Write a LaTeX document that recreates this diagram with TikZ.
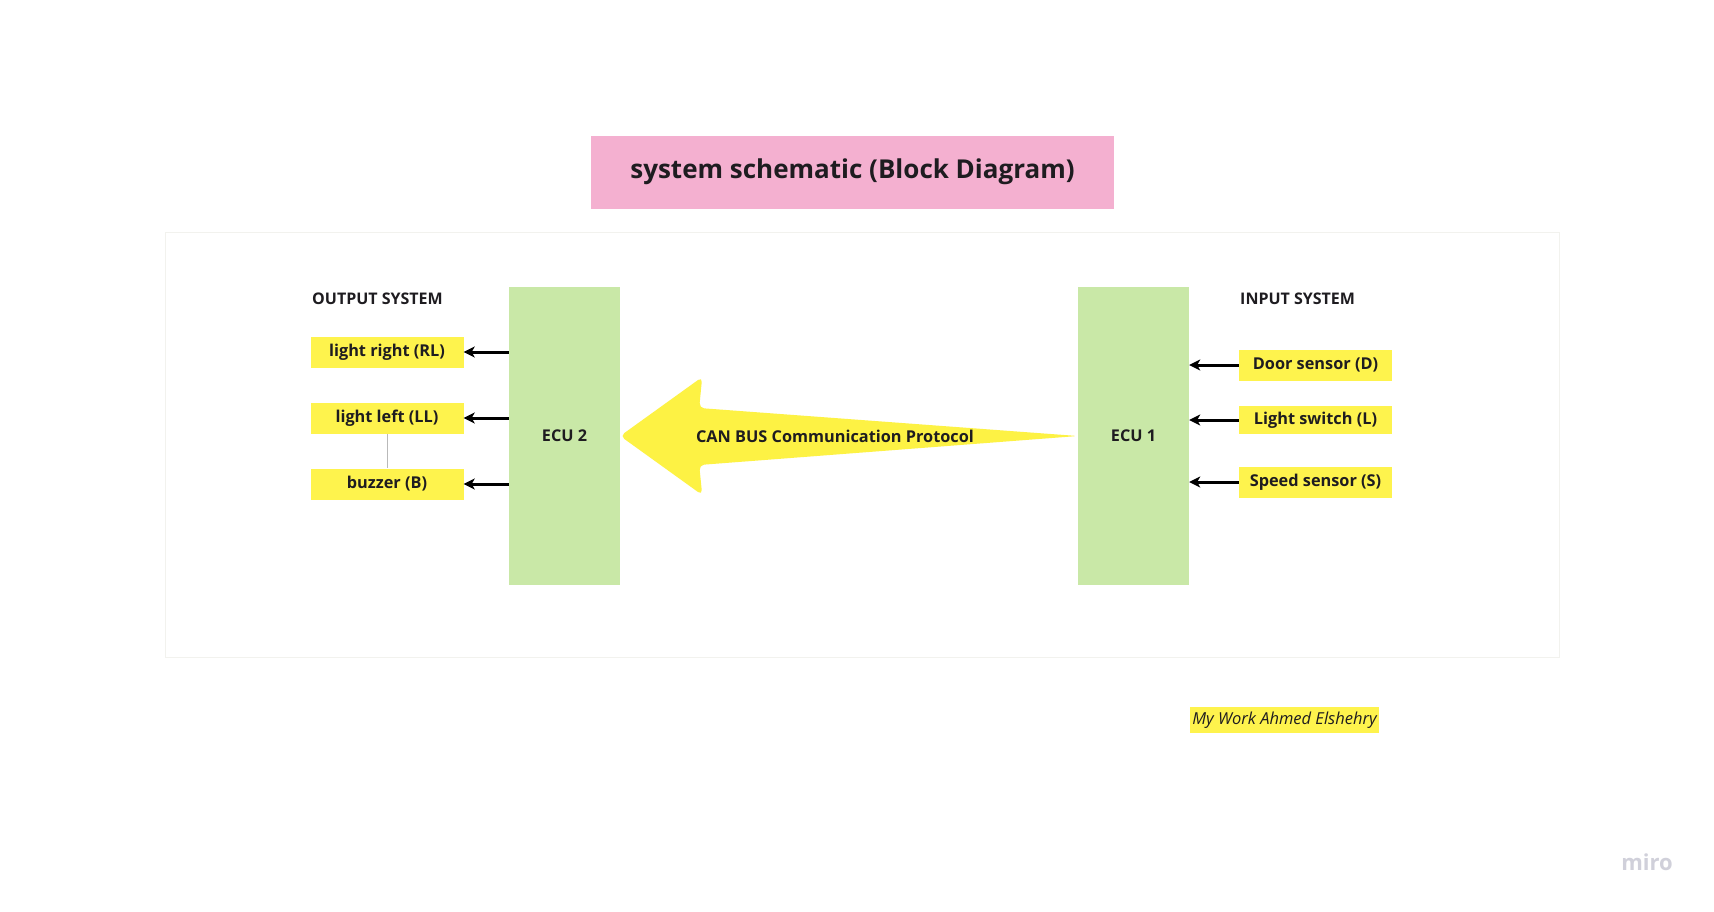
\documentclass[tikz,border=0pt]{standalone}
\usepackage{fontspec}
\setmainfont{Open Sans}
\usepackage{tikz}
\usetikzlibrary{arrows.meta,calc,positioning}

\definecolor{titlePink}{RGB}{244,176,208}
\definecolor{ecuGreen}{RGB}{201,232,167}
\definecolor{noteYellow}{RGB}{254,243,77}
\definecolor{canYellow}{RGB}{253,242,68}
\definecolor{inkDark}{RGB}{30,28,32}
\definecolor{frameGray}{RGB}{242,242,238}
\definecolor{miroGray}{RGB}{208,208,218}

\begin{document}
\begin{tikzpicture}[x=1pt,y=-1pt,
  ecu/.style={fill=ecuGreen, text=inkDark, inner sep=0pt, minimum width=111pt, minimum height=298pt, font=\fontsize{16.2}{19}\selectfont\bfseries},
  note/.style={fill=noteYellow, text=inkDark, inner sep=0pt, minimum width=153pt, minimum height=31pt, font=\fontsize{16.3}{19}\selectfont\bfseries},
  head/.style={anchor=west, text=inkDark, inner sep=0pt, font=\fontsize{16}{19}\selectfont\bfseries},
  sigarr/.style={-{Stealth[length=11pt,width=11pt,inset=3pt]}, line width=3pt, black}]
\useasboundingbox[fill=white] (0,0) rectangle (1714,911);
\draw[frameGray] (165,232) rectangle (1559,657);

\node[fill=titlePink, text=inkDark, inner sep=0pt, minimum width=523pt, minimum height=73pt, font=\fontsize{26}{31}\selectfont\bfseries] (title) at (852.5,172) {system schematic (Block Diagram)};

\node[ecu] (ecuB) at (564.5,436) {ECU 2};
\node[ecu] (ecuA) at (1133.5,436) {ECU 1};

\node[head] (outhead) at (312,299) {OUTPUT SYSTEM};
\node[head] (inhead) at (1240,299) {INPUT SYSTEM};

\node[note] (rl) at (387,352) {light right (RL)};
\node[note] (ll) at (387,418) {light left (LL)};
\node[note] (bz) at (387,484) {buzzer (B)};

\node[note] (door) at (1315.5,365) {Door sensor (D)};
\node[note, minimum height=28pt] (lsw) at (1315.5,420) {Light switch (L)};
\node[note] (spd) at (1315.5,482) {Speed sensor (S)};

\draw[gray!55, line width=0.8pt] (ll.south) -- (bz.north);

\foreach \n in {rl,ll,bz}
  \draw[sigarr] (ecuB.west |- \n.east) -- (\n.east);
\foreach \n in {door,lsw,spd}
  \draw[sigarr] (\n.west) -- (\n.west -| ecuA.east);

\fill[canYellow, rounded corners=5pt] (ecuB.east) -- ++(82,-59) -- ++(-3,31) -- (ecuA.west) -- ($(ecuB.east)+(79,29)$) -- ++(3,30) -- cycle;
\node[text=inkDark, font=\fontsize{16.3}{19}\selectfont\bfseries] (canlbl) at (835,436) {CAN BUS Communication Protocol};

\node[fill=noteYellow, text=inkDark, inner sep=0pt, minimum width=189pt, minimum height=26pt, font=\fontsize{16.5}{19}\selectfont\itshape] (sign) at (1284.5,720) {My Work Ahmed Elshehry};

\node[text=miroGray, font=\fontsize{22}{26}\selectfont\bfseries] (miro) at (1647,862) {miro};
\end{tikzpicture}
\end{document}
